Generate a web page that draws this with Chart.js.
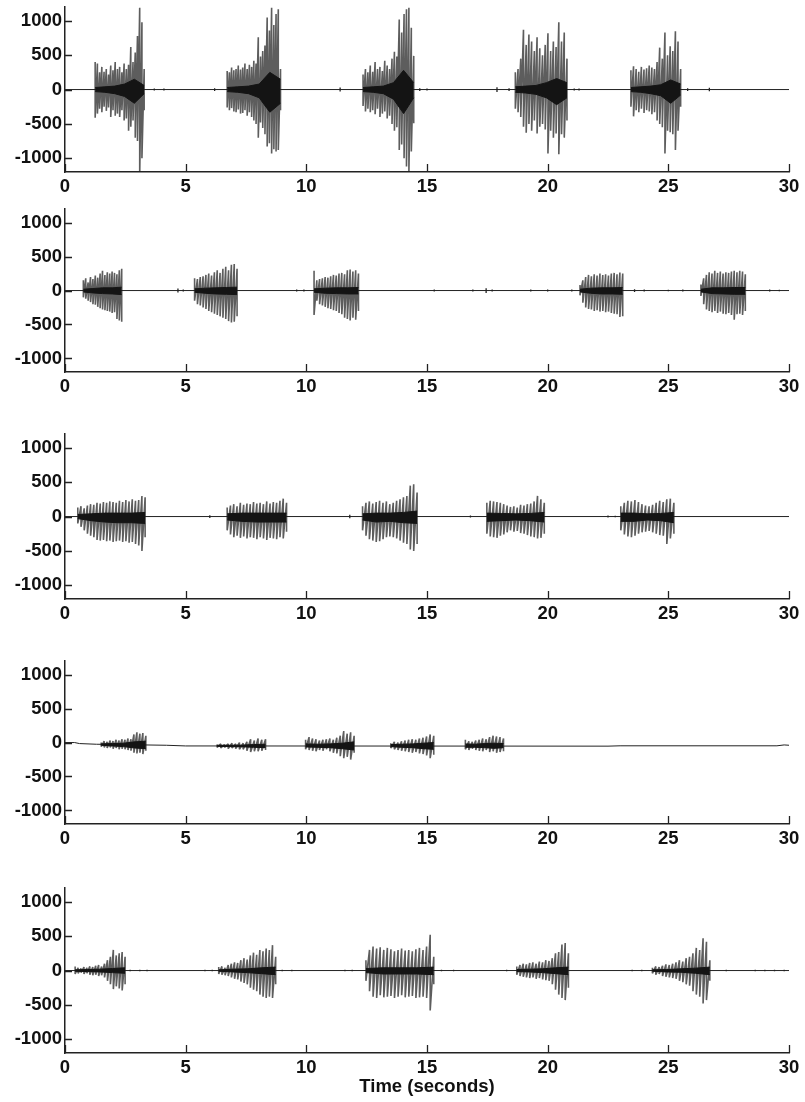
<!DOCTYPE html>
<html><head><meta charset="utf-8">
<script src="https://cdn.jsdelivr.net/npm/chart.js@4.4.1/dist/chart.umd.min.js"></script>
<style>
html,body{margin:0;padding:0;background:#fff;}
#wrap{position:relative;width:805px;height:1102px;overflow:hidden;background:#fff;}
canvas{position:absolute;left:0;}
</style></head><body><div id="wrap"></div>
<script>
const xTicks=[0,5,10,15,20,25,30];
const yTicks=[-1000,-500,0,500,1000];
const xLabel='Time (seconds)';

// ---------- Panel 1 ----------
const p1BaseT=[0,30], p1BaseY=[0,0];
const p1Start=[1.25,6.72,12.35,18.66,23.45];
const p1End=[3.28,8.93,14.45,20.80,25.51];
const p1Hi=[
 [400,380,250,330,260,300,220,350,280,400,300,330,250,380,300,360,620,400,540,780,1190,980,300],
 [270,250,320,280,300,350,290,320,380,300,360,330,420,380,760,480,560,640,1050,860,1190,940,1100,1170,300],
 [220,300,250,350,260,400,300,330,270,420,350,300,450,550,480,1020,830,1100,1170,1190,900,490],
 [250,300,450,870,650,800,700,560,760,600,500,650,820,560,700,620,980,700,830,450],
 [280,340,300,260,330,290,310,350,320,300,400,610,450,830,500,630,560,850,700,300]];
const p1Lo=[
 [-410,-350,-280,-330,-250,-310,-260,-400,-300,-380,-350,-400,-300,-450,-420,-600,-540,-450,-700,-750,-1240,-1000,-300],
 [-260,-300,-270,-320,-330,-290,-350,-340,-300,-380,-330,-400,-450,-500,-700,-480,-560,-650,-830,-780,-930,-870,-900,-880,-300],
 [-240,-320,-280,-330,-300,-360,-280,-400,-350,-320,-420,-380,-500,-600,-550,-880,-800,-1000,-1120,-1200,-900,-490],
 [-280,-330,-400,-540,-630,-500,-600,-450,-640,-540,-500,-580,-930,-600,-700,-640,-940,-650,-700,-450],
 [-250,-390,-300,-330,-280,-340,-300,-320,-360,-330,-450,-500,-550,-930,-600,-620,-650,-880,-600,-250]];
const p1CoreHi=[[30,40,50,80,150,60],[30,40,50,80,250,150],[30,40,50,100,280,100],[40,50,60,100,160,100],[30,40,50,70,140,80]];
const p1CoreLo=[[-30,-40,-60,-100,-200,-60],[-30,-40,-60,-120,-330,-200],[-30,-40,-60,-140,-350,-120],[-40,-50,-70,-120,-220,-120],[-30,-40,-60,-90,-200,-80]];
const p1BlipT=[3.7,4.1,6.2,11.4,14.7,15.0,17.9,18.4,21.1,21.3,25.8,26.7];
const p1BlipA=[15,15,20,30,20,15,35,20,15,15,20,25];

// ---------- Panel 2 ----------
const p2BaseT=[0,30], p2BaseY=[0,0];
const p2Start=[0.76,5.37,10.32,21.34,26.35];
const p2End=[2.35,7.13,12.16,23.11,28.19];
const p2Hi=[
 [150,180,120,200,170,220,190,250,290,230,270,250,280,260,240,300,320],
 [180,170,200,210,230,250,220,270,300,260,320,350,300,380,390,320],
 [290,150,170,180,200,190,210,230,220,250,260,240,300,310,280,300,250],
 [80,150,200,230,210,240,220,250,230,240,220,250,260,240,265,250],
 [90,180,230,270,250,290,260,280,250,270,260,280,290,270,290,280,240]];
const p2Lo=[
 [-100,-120,-150,-170,-200,-210,-240,-260,-280,-290,-300,-310,-330,-320,-420,-440,-460],
 [-150,-200,-220,-250,-270,-300,-320,-340,-360,-380,-400,-420,-450,-470,-460,-380],
 [-360,-150,-200,-220,-240,-260,-270,-290,-300,-330,-350,-400,-420,-440,-400,-430,-300],
 [-70,-180,-250,-270,-280,-300,-290,-310,-300,-320,-310,-330,-340,-350,-390,-380],
 [-80,-200,-280,-300,-320,-300,-330,-310,-340,-350,-330,-360,-430,-350,-340,-360,-300]];
const p2CoreHi=[[20,30,40,40,50],[25,35,40,45,50],[25,35,40,40,45],[20,35,40,40,45],[20,40,40,45,45]];
const p2CoreLo=[[-20,-35,-45,-50,-60],[-25,-40,-50,-55,-60],[-25,-40,-45,-50,-50],[-20,-40,-50,-50,-55],[-20,-45,-50,-55,-55]];
const p2BlipT=[4.68,4.9,9.6,9.9,15.3,16.9,17.45,17.7,19.3,20.0,21.0,23.6,24.0,25.0,25.6,29.2,29.6];
const p2BlipA=[30,15,15,15,15,15,35,15,15,15,15,20,15,10,15,15,10];

// ---------- Panel 3 ----------
const p3BaseT=[0,30], p3BaseY=[0,0];
const p3Start=[0.53,6.72,12.33,17.48,23.03];
const p3End=[3.32,9.18,14.59,19.86,25.23];
const p3Hi=[
 [130,150,120,160,180,170,200,190,210,200,220,210,200,230,210,240,220,250,230,240,300,280],
 [130,160,180,150,200,170,190,180,210,190,200,180,220,190,210,200,230,260,200],
 [150,200,220,190,210,230,200,220,180,200,230,250,280,300,450,470,350],
 [200,230,220,210,200,180,160,140,150,130,170,160,180,190,220,300,250,200],
 [150,200,230,220,240,210,180,160,150,170,200,230,210,250,260,200]];
const p3Lo=[
 [-100,-150,-200,-250,-280,-300,-340,-350,-340,-360,-350,-370,-360,-350,-370,-360,-380,-370,-400,-420,-500,-300],
 [-200,-260,-300,-280,-310,-290,-320,-300,-310,-330,-300,-320,-340,-310,-320,-330,-300,-320,-220],
 [-200,-280,-330,-350,-370,-360,-330,-300,-290,-300,-320,-350,-380,-400,-480,-500,-400],
 [-250,-290,-300,-310,-280,-260,-230,-200,-220,-210,-240,-250,-270,-290,-300,-320,-310,-250],
 [-200,-260,-290,-300,-280,-250,-230,-220,-210,-230,-250,-270,-280,-400,-320,-250]];
const p3CoreHi=[[30,40,50,50,50,60],[40,50,50,50,50],[40,50,50,60,80],[50,45,40,45,60],[50,50,40,45,60]];
const p3CoreLo=[[-30,-60,-80,-90,-90,-100],[-50,-70,-80,-80,-80],[-50,-80,-70,-90,-100],[-70,-60,-50,-60,-80],[-70,-70,-50,-60,-90]];
const p3BlipT=[6.0,11.8,16.8,22.5,22.8];
const p3BlipA=[20,25,15,15,10];

// ---------- Panel 4 ----------
const p4BaseT=[0,0.4,0.6,1.3,4.2,5.0,22.5,23.0,29.5,29.8,30];
const p4BaseY=[0,0,-15,-25,-40,-50,-53,-48,-48,-35,-40];
const p4Start=[1.5,6.3,9.97,13.5,16.59];
const p4End=[3.35,8.31,11.98,15.28,18.17];
const p4Hi=[
 [0,20,10,30,20,40,30,50,40,60,50,120,150,130,140,100],
 [-30,-20,-30,-20,-10,-20,0,-10,10,50,30,60,40,50],
 [40,80,60,50,30,40,50,60,40,70,100,170,130,150,100],
 [-10,10,0,20,30,40,50,40,60,70,90,120,100],
 [40,20,10,30,40,60,50,80,100,90,80,60]];
const p4Lo=[
 [-60,-70,-80,-70,-90,-80,-100,-90,-100,-110,-120,-150,-160,-150,-170,-120],
 [-70,-80,-70,-90,-80,-90,-100,-100,-120,-140,-130,-130,-120,-110],
 [-100,-110,-120,-130,-110,-120,-100,-130,-150,-160,-200,-230,-210,-250,-150],
 [-80,-100,-110,-120,-130,-140,-150,-140,-160,-170,-190,-230,-180],
 [-100,-110,-90,-110,-120,-130,-110,-140,-130,-150,-140,-130]];
const p4CoreHi=[[-20,-15,-10,10,20],[-40,-40,-38,-30,-25],[-20,-25,-20,-10,10],[-30,-25,-20,-10,0],[-20,-25,-15,-10,-15]];
const p4CoreLo=[[-40,-50,-60,-80,-90],[-55,-60,-62,-70,-75],[-65,-70,-75,-90,-110],[-60,-70,-75,-90,-100],[-70,-70,-75,-85,-75]];
const p4BlipT=[];
const p4BlipA=[];

// ---------- Panel 5 ----------
const p5BaseT=[0,30], p5BaseY=[0,0];
const p5Start=[0.42,6.37,12.47,18.72,24.34];
const p5End=[2.49,8.73,15.28,20.86,26.72];
const p5Hi=[
 [60,40,30,50,40,60,50,70,80,60,100,150,200,300,220,250,270,200],
 [50,60,40,80,100,120,110,150,180,160,220,260,230,300,280,320,300,370,200],
 [150,300,350,320,340,300,330,310,280,300,320,290,300,280,310,330,300,350,520,200],
 [60,80,100,90,110,120,100,130,120,150,140,180,250,270,380,400,250],
 [40,60,50,70,90,80,100,120,150,130,180,200,250,330,300,470,420,150]];
const p5Lo=[
 [-50,-40,-30,-50,-40,-60,-70,-60,-80,-70,-100,-150,-200,-270,-230,-260,-290,-200],
 [-50,-60,-70,-80,-100,-120,-130,-160,-180,-200,-250,-280,-300,-350,-380,-400,-380,-400,-200],
 [-150,-300,-380,-400,-360,-390,-380,-370,-400,-380,-360,-390,-380,-370,-400,-390,-380,-400,-580,-200],
 [-60,-80,-90,-100,-110,-100,-120,-110,-130,-140,-150,-200,-280,-350,-400,-430,-250],
 [-40,-60,-50,-80,-90,-100,-110,-120,-150,-170,-200,-220,-300,-350,-380,-480,-430,-150]];
const p5CoreHi=[[10,15,20,30,40],[10,20,25,40,50],[30,40,40,40,50],[15,20,25,40,50],[10,15,25,35,50]];
const p5CoreLo=[[-10,-15,-20,-30,-40],[-10,-20,-30,-45,-60],[-30,-50,-50,-50,-60],[-15,-20,-30,-45,-60],[-10,-20,-25,-40,-60]];
const p5BlipT=[2.7,3.1,3.4,5.8,6.1,9.0,9.4,11.6,11.9,15.6,16.1,18.3,23.5,23.9,27.4,28.6,29.0,29.4,29.8];
const p5BlipA=[12,10,10,10,12,10,12,10,12,12,10,12,10,12,10,10,12,10,10];

// ---------- layout (positions only) ----------
const panels=[
 {top:7,bottom:172,xh:30,baseT:p1BaseT,baseY:p1BaseY,start:p1Start,end:p1End,hi:p1Hi,lo:p1Lo,cHi:p1CoreHi,cLo:p1CoreLo,bT:p1BlipT,bA:p1BlipA},
 {top:209,bottom:372,xh:30,baseT:p2BaseT,baseY:p2BaseY,start:p2Start,end:p2End,hi:p2Hi,lo:p2Lo,cHi:p2CoreHi,cLo:p2CoreLo,bT:p2BlipT,bA:p2BlipA},
 {top:434,bottom:599,xh:30,baseT:p3BaseT,baseY:p3BaseY,start:p3Start,end:p3End,hi:p3Hi,lo:p3Lo,cHi:p3CoreHi,cLo:p3CoreLo,bT:p3BlipT,bA:p3BlipA},
 {top:661,bottom:824,xh:30,baseT:p4BaseT,baseY:p4BaseY,start:p4Start,end:p4End,hi:p4Hi,lo:p4Lo,cHi:p4CoreHi,cLo:p4CoreLo,bT:p4BlipT,bA:p4BlipA},
 {top:888,bottom:1053,xh:45,baseT:p5BaseT,baseY:p5BaseY,start:p5Start,end:p5End,hi:p5Hi,lo:p5Lo,cHi:p5CoreHi,cLo:p5CoreLo,bT:p5BlipT,bA:p5BlipA,title:true}
];

const FONT={family:'"Liberation Sans", Arial, sans-serif',size:18.5,weight:'bold'};
const INK='#111';
const SPIKE='rgba(30,30,30,0.72)';
const CORE='#141414';

const inwardTicks={id:'inwardTicks',afterDraw(c){
  const ctx=c.ctx,xs=c.scales.x,ys=c.scales.y,a=c.chartArea;
  ctx.save();ctx.strokeStyle='#222';ctx.lineWidth=1.3;ctx.beginPath();
  xTicks.forEach(v=>{const px=Math.round(xs.getPixelForValue(v))+0.5;ctx.moveTo(px,a.bottom);ctx.lineTo(px,a.bottom-8);});
  yTicks.forEach(v=>{const py=Math.round(ys.getPixelForValue(v))+0.5;ctx.moveTo(a.left,py);ctx.lineTo(a.left+7,py);});
  ctx.stroke();ctx.restore();
}};

function spread(s,e,n,i){return n>1? s+(e-s)*i/(n-1) : s;}

function buildDatasets(p){
  const ds=[];
  ds.push({data:p.baseT.map((t,i)=>({x:t,y:p.baseY[i]})),borderColor:'#222',borderWidth:1,fill:false,order:3});
  p.start.forEach((s,b)=>{
    const e=p.end[b];
    const hi=p.hi[b], lo=p.lo[b], n=Math.min(hi.length,lo.length), pts=[];
    for(let i=0;i<n;i++){const t=spread(s,e,n,i);pts.push({x:t,y:hi[i]},{x:t,y:lo[i]});}
    ds.push({data:pts,borderColor:SPIKE,borderWidth:1.6,borderJoinStyle:'bevel',fill:false,order:2});
    const ch=p.cHi[b], cl=p.cLo[b];
    ds.push({data:ch.map((v,i)=>({x:spread(s,e,ch.length,i),y:v})),borderColor:CORE,borderWidth:1,backgroundColor:CORE,fill:'+1',order:1});
    ds.push({data:cl.map((v,i)=>({x:spread(s,e,cl.length,i),y:v})),borderColor:CORE,borderWidth:1,fill:false,order:1});
  });
  if(p.bT.length){
    const pts=[];
    p.bT.forEach((t,i)=>{pts.push({x:t,y:p.bA[i]},{x:t,y:-p.bA[i]},{x:t,y:null});});
    ds.push({data:pts,borderColor:'#222',borderWidth:1.3,fill:false,spanGaps:false,order:2});
  }
  return ds;
}

const wrap=document.getElementById('wrap');
panels.forEach(p=>{
  const PADT=14;
  const h=p.bottom-p.top+PADT+p.xh;
  const cv=document.createElement('canvas');
  cv.width=805;cv.height=h;cv.style.width='805px';cv.style.height=h+'px';cv.style.top=(p.top-PADT)+'px';
  wrap.appendChild(cv);
  new Chart(cv,{type:'line',data:{datasets:buildDatasets(p)},
    options:{responsive:false,animation:false,events:[],
      layout:{padding:{top:PADT,right:16,left:0,bottom:0}},
      plugins:{legend:{display:false},tooltip:{enabled:false}},
      elements:{point:{radius:0},line:{tension:0}},
      scales:{
        x:{type:'linear',min:0,max:30,
          afterBuildTicks:s=>{s.ticks=xTicks.map(v=>({value:v}));},
          afterFit:s=>{s.height=p.xh;},
          grid:{display:false,drawTicks:false},
          border:{display:true,color:'#222',width:1.5},
          ticks:{padding:4,font:FONT,color:INK,maxRotation:0,autoSkip:false,callback:v=>String(v)},
          title:{display:!!p.title,text:xLabel,font:FONT,color:INK,padding:{top:0,bottom:0}}
        },
        y:{type:'linear',min:-1200,max:1200,
          afterBuildTicks:s=>{s.ticks=yTicks.map(v=>({value:v}));},
          afterFit:s=>{s.width=65;},
          grid:{display:false,drawTicks:false},
          border:{display:true,color:'#222',width:1.5},
          ticks:{padding:3,font:FONT,color:INK,autoSkip:false,callback:v=>String(v)}
        }
      }
    },
    plugins:[inwardTicks]
  });
});
</script>
</body></html>
